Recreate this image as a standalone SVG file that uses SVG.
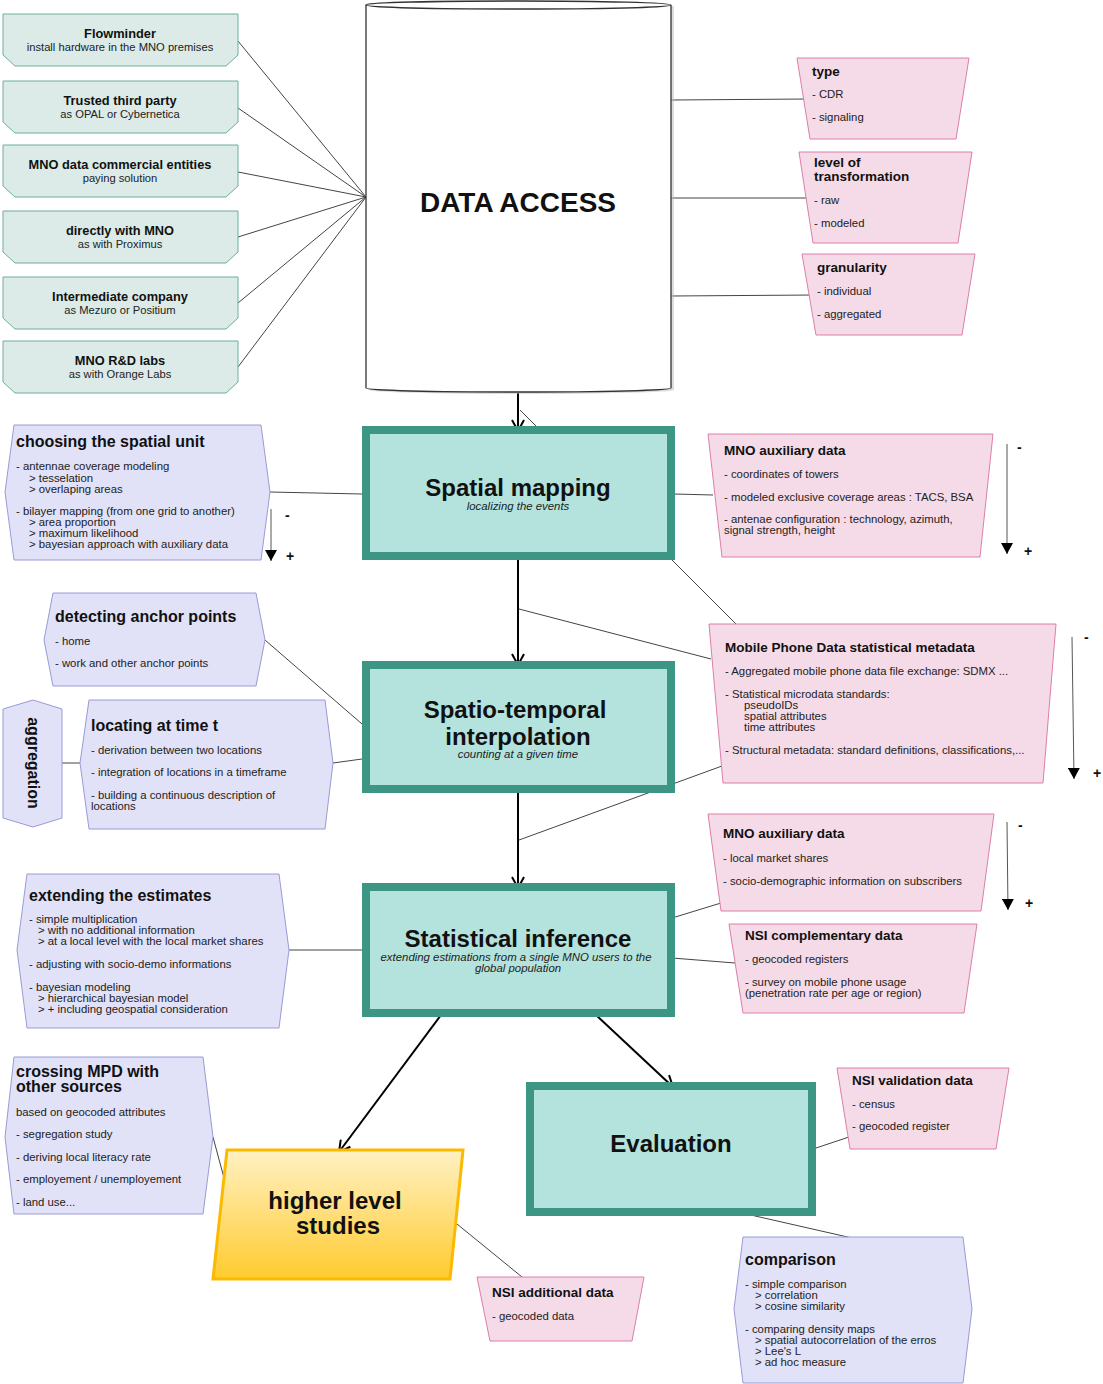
<svg xmlns="http://www.w3.org/2000/svg" width="1103" height="1384" viewBox="0 0 1103 1384">
<defs>
<style>
text{font-family:"Liberation Sans",Arial,sans-serif;fill:#111}
.gbox{fill:#dcebe7;stroke:#6aaf9f;stroke-width:1}
.pbox{fill:#f5dbe8;stroke:#dc7eaa;stroke-width:1}
.lbox{fill:#e1e1f7;stroke:#9a9ad8;stroke-width:1}
.main{fill:#b4e2dd;stroke:#3d9683;stroke-width:8}
.gt{font-size:12.8px;font-weight:bold;text-anchor:middle}
.gs{font-size:11.2px;text-anchor:middle;fill:#222}
.pt{font-size:13.5px;font-weight:bold}
.b{font-size:11.35px;fill:#222}
.lt{font-size:16px;font-weight:bold}
.mt{font-size:24px;font-weight:bold;text-anchor:middle}
.ms{font-size:11.4px;font-style:italic;text-anchor:middle;fill:#222}
.sign{font-size:14px;font-weight:bold}
.thin{stroke:#444;stroke-width:1;fill:none}
.thick{stroke:#000;stroke-width:2;fill:none;marker-end:url(#open)}
.grad{stroke:#555;stroke-width:1;fill:none;marker-end:url(#tri)}
</style>
<marker id="open" viewBox="0 0 14 14" refX="12" refY="7" markerWidth="14" markerHeight="14" markerUnits="userSpaceOnUse" orient="auto">
<path d="M1,1 L12,7 L1,13" fill="none" stroke="#000" stroke-width="2"/>
</marker>
<marker id="tri" viewBox="0 0 12 12" refX="11" refY="6" markerWidth="12" markerHeight="12" markerUnits="userSpaceOnUse" orient="auto">
<path d="M0,0 L11,6 L0,12 Z" fill="#000"/>
</marker>
<linearGradient id="yel" x1="0" y1="0" x2="0" y2="1">
<stop offset="0" stop-color="#fff1c4"/>
<stop offset="1" stop-color="#ffcb2f"/>
</linearGradient>
</defs>

<g id="connectors">
<line class="thin" x1="238" y1="41" x2="366" y2="197"/>
<line class="thin" x1="238" y1="108" x2="366" y2="197"/>
<line class="thin" x1="238" y1="172" x2="366" y2="197"/>
<line class="thin" x1="238" y1="237" x2="366" y2="197"/>
<line class="thin" x1="238" y1="303" x2="366" y2="197"/>
<line class="thin" x1="238" y1="367" x2="366" y2="197"/>
<line class="thin" x1="671" y1="100" x2="808" y2="99"/>
<line class="thin" x1="671" y1="198" x2="810" y2="198"/>
<line class="thin" x1="671" y1="296" x2="815" y2="295"/>
<line class="thin" x1="520" y1="410" x2="536" y2="426"/>
<line class="thin" x1="270" y1="492" x2="362" y2="494"/>
<line class="thin" x1="674" y1="494" x2="713" y2="495"/>
<line class="thin" x1="672" y1="560" x2="736" y2="624"/>
<line class="thin" x1="519" y1="609" x2="711" y2="659"/>
<line class="thin" x1="265" y1="640" x2="362" y2="724"/>
<line class="thin" x1="333" y1="763" x2="362" y2="759"/>
<line class="thin" x1="62" y1="763" x2="80" y2="763"/>
<line class="thin" x1="519" y1="840" x2="722" y2="766"/>
<line class="thin" x1="289" y1="950" x2="362" y2="950"/>
<line class="thin" x1="672" y1="918" x2="721" y2="903"/>
<line class="thin" x1="672" y1="958" x2="735" y2="963"/>
<line class="thin" x1="213" y1="1137" x2="224" y2="1178"/>
<line class="thin" x1="457" y1="1224" x2="522" y2="1277"/>
<line class="thin" x1="813" y1="1149" x2="849" y2="1137"/>
<line class="thin" x1="742" y1="1213" x2="852" y2="1238"/>
<line class="thick" x1="518" y1="393" x2="518" y2="431"/>
<line class="thick" x1="518" y1="560" x2="518" y2="665"/>
<line class="thick" x1="518" y1="793" x2="518" y2="888"/>
<line class="thick" x1="441" y1="1015" x2="339" y2="1152"/>
<line class="thick" x1="596" y1="1015" x2="673" y2="1087"/>
<line class="grad" x1="271" y1="509" x2="271" y2="561"/>
<line class="grad" x1="1007" y1="444" x2="1007" y2="554"/>
<line class="grad" x1="1072" y1="637" x2="1074" y2="779"/>
<line class="grad" x1="1007" y1="822" x2="1008" y2="910"/>
<text class="sign" x="285" y="520">-</text>
<text class="sign" x="286" y="561">+</text>
<text class="sign" x="1017" y="452">-</text>
<text class="sign" x="1024" y="556">+</text>
<text class="sign" x="1084" y="642">-</text>
<text class="sign" x="1093" y="778">+</text>
<text class="sign" x="1018" y="830">-</text>
<text class="sign" x="1025" y="908">+</text>
</g>

<g id="n-flowminder">
<path class="gbox" d="M3,14 L238,14 L238,55 L226,66 L15,66 L3,55 Z"/>
<text class="gt" x="120" y="38">Flowminder</text>
<text class="gs" x="120" y="51">install hardware in the MNO premises</text>
</g>
<g id="n-trusted">
<path class="gbox" d="M3,81 L238,81 L238,122 L226,133 L15,133 L3,122 Z"/>
<text class="gt" x="120" y="105">Trusted third party</text>
<text class="gs" x="120" y="118">as OPAL or Cybernetica</text>
</g>
<g id="n-commercial">
<path class="gbox" d="M3,145 L238,145 L238,186 L226,197 L15,197 L3,186 Z"/>
<text class="gt" x="120" y="169">MNO data commercial entities</text>
<text class="gs" x="120" y="182">paying solution</text>
</g>
<g id="n-directly">
<path class="gbox" d="M3,211 L238,211 L238,252 L226,263 L15,263 L3,252 Z"/>
<text class="gt" x="120" y="235">directly with MNO</text>
<text class="gs" x="120" y="248">as with Proximus</text>
</g>
<g id="n-intermediate">
<path class="gbox" d="M3,277 L238,277 L238,318 L226,329 L15,329 L3,318 Z"/>
<text class="gt" x="120" y="301">Intermediate company</text>
<text class="gs" x="120" y="314">as Mezuro or Positium</text>
</g>
<g id="n-labs">
<path class="gbox" d="M3,341 L238,341 L238,382 L226,393 L15,393 L3,382 Z"/>
<text class="gt" x="120" y="365">MNO R&amp;D labs</text>
<text class="gs" x="120" y="378">as with Orange Labs</text>
</g>

<g id="n-data-access">
<path d="M369,6 L369,390 A152.5,4 0 0 0 674,390 L674,6 Z" fill="#bbb" opacity="0.5"/>
<path d="M366,5 L366,388 A152.5,4 0 0 0 671,388 L671,5 A152.5,4 0 0 0 366,5 Z" fill="#fff" stroke="#333" stroke-width="1.3"/>
<path d="M366,5 A152.5,4 0 0 0 671,5" fill="none" stroke="#333" stroke-width="1.3"/>
<text x="518" y="212" style="font-size:28px;font-weight:bold;text-anchor:middle">DATA ACCESS</text>
</g>

<g id="n-type">
<polygon class="pbox" points="797,58 969,58 956,139 810,139"/>
<text class="pt" x="812" y="76">type</text>
<text class="b" x="812" y="98">- CDR</text>
<text class="b" x="812" y="121">- signaling</text>
</g>
<g id="n-level">
<polygon class="pbox" points="799,152 972,152 958,243 813,243"/>
<text class="pt" x="814" y="167">level of</text>
<text class="pt" x="814" y="181">transformation</text>
<text class="b" x="814" y="204">- raw</text>
<text class="b" x="814" y="227">- modeled</text>
</g>
<g id="n-granularity">
<polygon class="pbox" points="802,254 975,254 962,335 816,335"/>
<text class="pt" x="817" y="272">granularity</text>
<text class="b" x="817" y="295">- individual</text>
<text class="b" x="817" y="318">- aggregated</text>
</g>

<g id="n-spatial-mapping">
<rect class="main" x="366" y="430" width="305" height="126"/>
<text class="mt" x="518" y="496">Spatial mapping</text>
<text class="ms" x="518" y="510">localizing the events</text>
</g>
<g id="n-spatio-temporal">
<rect class="main" x="366" y="665" width="305" height="124"/>
<text class="mt" x="515" y="718">Spatio-temporal</text>
<text class="mt" x="518" y="745">interpolation</text>
<text class="ms" x="518" y="758">counting at a given time</text>
</g>
<g id="n-statistical-inference">
<rect class="main" x="366" y="887" width="305" height="126"/>
<text class="mt" x="518" y="947">Statistical inference</text>
<text class="ms" x="516" y="961">extending estimations from a single MNO users to the</text>
<text class="ms" x="518" y="972">global population</text>
</g>
<g id="n-evaluation">
<rect class="main" x="530" y="1086" width="282" height="126"/>
<text class="mt" x="671" y="1152">Evaluation</text>
</g>
<g id="n-higher-level">
<polygon points="227,1150 463,1150 450,1279 213,1279" fill="url(#yel)" stroke="#fbb900" stroke-width="3"/>
<text class="mt" x="335" y="1209">higher level</text>
<text class="mt" x="338" y="1234">studies</text>
</g>

<g id="n-choosing">
<polygon class="lbox" points="14,425 261,425 270,492 261,560 14,560 5,492"/>
<text class="lt" x="16" y="447">choosing the spatial unit</text>
<text class="b" x="16" y="470">- antennae coverage modeling</text>
<text class="b" x="29" y="482">&gt; tesselation</text>
<text class="b" x="29" y="493">&gt; overlaping areas</text>
<text class="b" x="16" y="515">- bilayer mapping (from one grid to another)</text>
<text class="b" x="29" y="526">&gt; area proportion</text>
<text class="b" x="29" y="537">&gt; maximum likelihood</text>
<text class="b" x="29" y="548">&gt; bayesian approach with auxiliary data</text>
</g>
<g id="n-detecting">
<polygon class="lbox" points="53,593 256,593 265,640 256,686 53,686 44,640"/>
<text class="lt" x="55" y="622">detecting anchor points</text>
<text class="b" x="55" y="645">- home</text>
<text class="b" x="55" y="667">- work and other anchor points</text>
</g>
<g id="n-locating">
<polygon class="lbox" points="89,700 325,700 333,763 325,829 89,829 80,763"/>
<text class="lt" x="91" y="731">locating at time t</text>
<text class="b" x="91" y="754">- derivation between two locations</text>
<text class="b" x="91" y="776">- integration of locations in a timeframe</text>
<text class="b" x="91" y="799">- building a continuous description of</text>
<text class="b" x="91" y="810">locations</text>
</g>
<g id="n-aggregation">
<polygon class="lbox" points="33,700 62,709 62,818 33,827 3,818 3,709"/>
<text class="lt" transform="translate(33,763) rotate(90)" x="0" y="5" text-anchor="middle">aggregation</text>
</g>
<g id="n-extending">
<polygon class="lbox" points="27,874 279,874 289,950 279,1028 27,1028 17,950"/>
<text class="lt" x="29" y="901">extending the estimates</text>
<text class="b" x="29" y="923">- simple multiplication</text>
<text class="b" x="38" y="934">&gt; with no additional information</text>
<text class="b" x="38" y="945">&gt; at a local level with the local market shares</text>
<text class="b" x="29" y="968">- adjusting with socio-demo informations</text>
<text class="b" x="29" y="991">- bayesian modeling</text>
<text class="b" x="38" y="1002">&gt; hierarchical bayesian model</text>
<text class="b" x="38" y="1013">&gt; + including geospatial consideration</text>
</g>
<g id="n-crossing">
<polygon class="lbox" points="14,1057 203,1057 213,1137 203,1214 14,1214 5,1137"/>
<text class="lt" x="16" y="1077">crossing MPD with</text>
<text class="lt" x="16" y="1092">other sources</text>
<text class="b" x="16" y="1116">based on geocoded attributes</text>
<text class="b" x="16" y="1138">- segregation study</text>
<text class="b" x="16" y="1161">- deriving local literacy rate</text>
<text class="b" x="16" y="1183">- employement / unemployement</text>
<text class="b" x="16" y="1206">- land use...</text>
</g>
<g id="n-comparison">
<polygon class="lbox" points="743,1237 963,1237 972,1309 963,1383 743,1383 734,1309"/>
<text class="lt" x="745" y="1265">comparison</text>
<text class="b" x="745" y="1288">- simple comparison</text>
<text class="b" x="755" y="1299">&gt; correlation</text>
<text class="b" x="755" y="1310">&gt; cosine similarity</text>
<text class="b" x="745" y="1333">- comparing density maps</text>
<text class="b" x="755" y="1344">&gt; spatial autocorrelation of the erros</text>
<text class="b" x="755" y="1355">&gt; Lee's L</text>
<text class="b" x="755" y="1366">&gt; ad hoc measure</text>
</g>

<g id="n-mno-aux-1">
<polygon class="pbox" points="708,434 993,434 980,557 722,557"/>
<text class="pt" x="724" y="455">MNO auxiliary data</text>
<text class="b" x="724" y="478">- coordinates of towers</text>
<text class="b" x="724" y="501">- modeled exclusive coverage areas : TACS, BSA</text>
<text class="b" x="724" y="523">- antenae configuration : technology, azimuth,</text>
<text class="b" x="724" y="534">signal strength, height</text>
</g>
<g id="n-metadata">
<polygon class="pbox" points="709,624 1056,624 1043,783 723,783"/>
<text class="pt" x="725" y="652">Mobile Phone Data statistical metadata</text>
<text class="b" x="725" y="675">- Aggregated mobile phone data file exchange: SDMX ...</text>
<text class="b" x="725" y="698">- Statistical microdata standards:</text>
<text class="b" x="744" y="709">pseudoIDs</text>
<text class="b" x="744" y="720">spatial attributes</text>
<text class="b" x="744" y="731">time attributes</text>
<text class="b" x="725" y="754">- Structural metadata: standard definitions, classifications,...</text>
</g>
<g id="n-mno-aux-2">
<polygon class="pbox" points="708,814 994,814 981,911 721,911"/>
<text class="pt" x="723" y="838">MNO auxiliary data</text>
<text class="b" x="723" y="862">- local market shares</text>
<text class="b" x="723" y="885">- socio-demographic information on subscribers</text>
</g>
<g id="n-nsi-complementary">
<polygon class="pbox" points="729,924 977,924 964,1013 743,1013"/>
<text class="pt" x="745" y="940">NSI complementary data</text>
<text class="b" x="745" y="963">- geocoded registers</text>
<text class="b" x="745" y="986">- survey on mobile phone usage</text>
<text class="b" x="745" y="997">(penetration rate per age or region)</text>
</g>
<g id="n-nsi-additional">
<polygon class="pbox" points="477,1277 644,1277 632,1341 490,1341"/>
<text class="pt" x="492" y="1297">NSI additional data</text>
<text class="b" x="492" y="1320">- geocoded data</text>
</g>
<g id="n-nsi-validation">
<polygon class="pbox" points="837,1068 1009,1068 996,1149 850,1149"/>
<text class="pt" x="852" y="1085">NSI validation data</text>
<text class="b" x="852" y="1108">- census</text>
<text class="b" x="852" y="1130">- geocoded register</text>
</g>
</svg>
